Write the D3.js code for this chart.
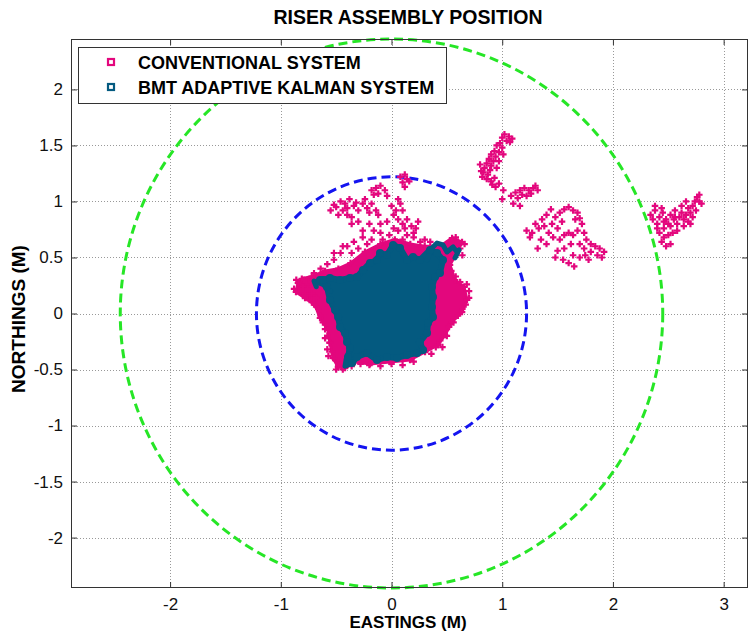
<!DOCTYPE html>
<html>
<head>
<meta charset="utf-8">
<script src="https://cdn.jsdelivr.net/npm/d3@7"></script>
<style>
  body { margin: 0; background: #fff; }
  text { font-family: "Liberation Sans", Arial, sans-serif; }
</style>
</head>
<body>
<div id="chart"></div>
<script>
// tick values
var xTicks = [-2, -1, 0, 1, 2, 3];
var yTicks = [-2, -1.5, -1, -0.5, 0, 0.5, 1, 1.5, 2];

// dashed limit circles (radius in metres)
var limitRadii = [2.45, 1.22];

// conventional system: outline of the saturated cloud round the centre
var convCore = [
  [-0.845,0.272],[-0.863,0.192],[-0.781,0.138],[-0.691,0.076],[-0.646,-0.040],[-0.574,-0.147],
  [-0.556,-0.263],[-0.528,-0.397],[-0.483,-0.477],[-0.420,-0.487],[-0.330,-0.433],[-0.194,-0.451],
  [-0.014,-0.433],[0.167,-0.415],[0.303,-0.344],[0.420,-0.281],[0.483,-0.192],[0.547,-0.076],
  [0.637,0.013],[0.682,0.121],[0.655,0.237],[0.574,0.299],[0.528,0.433],[0.601,0.567],
  [0.637,0.638],[0.547,0.674],[0.44,0.60],[0.30,0.60],[0.17,0.62],[0.03,0.66],[-0.10,0.62],
  [-0.24,0.55],[-0.37,0.45],[-0.48,0.40],[-0.60,0.38],[-0.72,0.33],[-0.81,0.31]
];
// conventional system positions (eastings, northings)
var convCentre = [
  [-0.84,0.27],[-0.80,0.24],[-0.82,0.20],[-0.76,0.22],[-0.78,0.16],[-0.72,0.18],[-0.74,0.12],[-0.70,0.08],
  [-0.66,0.04],[-0.68,0.14],[-0.64,-0.02],[-0.62,-0.08],[-0.60,-0.14],[-0.58,-0.20],[-0.56,-0.26],[-0.58,-0.32],
  [-0.86,0.30],[-0.88,0.22],[-0.79,0.30],[-0.73,0.28],[-0.60,-0.22],[-0.57,-0.38],
  [-0.54,-0.34],[-0.52,-0.40],[-0.48,-0.46],[-0.44,-0.50],[-0.50,-0.50],[-0.40,-0.46],[-0.36,-0.47],
  [-0.20,-0.46],[-0.10,-0.47],[0.00,-0.45],[0.10,-0.46],[0.20,-0.43],[-0.28,-0.45],
  [0.40,-0.30],[0.44,-0.24],[0.50,-0.20],[0.52,-0.12],[0.56,-0.08],[0.60,-0.02],[0.64,0.04],[0.67,0.08],
  [0.70,0.14],[0.70,0.20],[0.68,0.26],[0.62,0.28],[0.58,0.33],[0.54,0.38],[0.36,-0.36],[0.46,-0.30],
  [0.44,0.44],[0.48,0.50],[0.52,0.56],[0.56,0.62],[0.60,0.64],[0.62,0.58],[0.64,0.52],[0.50,0.62],
  [0.46,0.58],[0.40,0.52],[0.35,0.64],[0.30,0.66],[0.66,0.62],[0.58,0.68],
  [-0.40,0.60],[-0.34,0.64],[-0.26,0.68],[-0.18,0.66],[-0.10,0.72],[-0.02,0.70],[0.06,0.74],[0.14,0.70],
  [0.20,0.68],[0.26,0.64],[-0.46,0.54],[-0.52,0.48],[-0.58,0.44],[-0.64,0.40],[-0.30,0.58],[0.10,0.66],
  [-0.22,0.62],[-0.08,0.66],[-0.44,0.60],[-0.36,0.54],[-0.70,0.36],[-0.52,0.54],[-0.16,0.74],[0.02,0.76]
];
var convUpper = [
  [0.08,1.22],[0.12,1.24],[0.14,1.20],[0.10,1.17],[0.16,1.18],[0.12,1.13],
  [-0.18,1.10],[-0.14,1.12],[-0.10,1.14],[-0.06,1.10],[-0.12,1.07],[-0.16,1.06],[-0.04,1.05],
  [-0.55,0.92],[-0.50,0.95],[-0.46,1.00],[-0.42,0.98],[-0.38,1.02],[-0.34,0.96],[-0.30,0.92],[-0.44,0.92],
  [-0.40,0.88],[-0.36,0.86],[-0.48,0.88],[-0.52,0.97],[-0.40,0.94],[-0.32,0.99],[-0.36,0.80],
  [-0.26,0.98],[-0.22,0.94],[-0.18,0.98],[-0.14,0.92],[-0.12,0.88],[-0.20,0.90],[-0.24,1.02],
  [0.00,0.96],[0.04,0.92],[0.08,0.98],[0.02,0.88],[0.06,1.02],[0.10,0.92],
  [0.06,0.84],[0.10,0.80],[0.14,0.84],[0.18,0.78],[0.22,0.76],[0.24,0.82],[0.12,0.76],[0.20,0.72],
  [-0.26,0.74],[-0.20,0.80],[-0.10,0.80],[-0.30,0.82],[-0.04,0.82]
];
var convArmA = [
  [1.02,1.60],[1.06,1.58],[1.09,1.56],[1.00,1.57],[1.04,1.54],[0.98,1.52],[1.07,1.53],[0.95,1.50],
  [1.00,1.48],[0.93,1.45],[0.97,1.44],[0.90,1.42],[0.94,1.40],[0.88,1.38],[0.92,1.36],[0.86,1.34],
  [0.90,1.32],[0.84,1.30],[0.89,1.28],[0.83,1.26],[0.87,1.24],[0.82,1.22],[0.86,1.20],[0.90,1.18],
  [0.93,1.21],[0.95,1.30],[0.97,1.36],[1.01,1.42],[0.80,1.33],[0.81,1.27],[0.91,1.15],[0.94,1.13],
  [0.97,1.16],
  [1.08,1.05],[1.12,1.08],[1.16,1.10],[1.20,1.12],[1.24,1.10],[1.28,1.12],[1.32,1.10],[1.18,1.06],
  [1.22,1.05],[1.14,1.03],[1.26,1.07],[1.30,1.14],[1.10,0.98],[1.16,0.96],[1.01,1.10],[1.00,1.02]
];
var convClusterC = [
  [1.30,0.80],[1.27,0.72],[1.33,0.76],[1.36,0.84],[1.40,0.88],[1.38,0.78],[1.42,0.72],[1.45,0.80],
  [1.48,0.86],[1.52,0.90],[1.56,0.93],[1.60,0.95],[1.64,0.92],[1.68,0.90],[1.70,0.85],[1.72,0.80],
  [1.66,0.84],[1.50,0.76],[1.46,0.68],[1.52,0.66],[1.56,0.70],[1.60,0.72],[1.64,0.70],
  [1.68,0.74],[1.74,0.72],[1.76,0.66],[1.80,0.62],[1.84,0.60],[1.88,0.58],[1.92,0.55],[1.86,0.52],
  [1.80,0.55],[1.74,0.58],[1.70,0.62],[1.62,0.62],[1.56,0.58],[1.50,0.56],[1.48,0.50],[1.55,0.48],
  [1.60,0.45],[1.64,0.52],[1.70,0.50],[1.78,0.48],[1.90,0.50],[1.40,0.62],[1.35,0.66],[1.22,0.74],
  [1.25,0.68],[1.32,0.58],[1.44,0.93],[1.54,0.82],[1.75,0.52],[1.65,0.42]
];
var convClusterD = [
  [2.34,0.88],[2.38,0.92],[2.36,0.84],[2.42,0.86],[2.40,0.80],[2.45,0.90],[2.48,0.84],[2.50,0.80],
  [2.46,0.76],[2.52,0.88],[2.55,0.84],[2.58,0.80],[2.60,0.86],[2.62,0.90],[2.56,0.92],[2.64,0.84],
  [2.66,0.88],[2.68,0.94],[2.70,0.90],[2.72,0.96],[2.74,1.00],[2.76,1.04],[2.78,1.00],[2.72,0.86],
  [2.68,0.82],[2.75,0.92],[2.80,0.98],[2.66,1.00],[2.62,0.96],[2.58,0.74],[2.54,0.72],[2.50,0.70],
  [2.46,0.68],[2.44,0.64],[2.48,0.60],[2.52,0.62],[2.42,0.72],[2.40,0.76],[2.46,0.82],[2.52,0.78],
  [2.56,0.86],[2.70,0.80],[2.64,0.78],[2.38,0.96],[2.44,0.94],[2.78,1.06]
];

// adaptive kalman track: outline of the dense core, plus its outer excursions
var kalmanHull = [
  [-0.646,0.299],[-0.583,0.237],[-0.556,0.121],[-0.510,0.031],[-0.483,-0.031],[-0.465,-0.121],
  [-0.420,-0.174],[-0.402,-0.254],[-0.375,-0.308],[-0.393,-0.388],[-0.357,-0.442],[-0.312,-0.388],
  [-0.221,-0.353],[-0.131,-0.415],[-0.041,-0.388],[0.050,-0.397],[0.140,-0.371],[0.230,-0.353],
  [0.285,-0.326],[0.257,-0.254],[0.321,-0.174],[0.330,-0.085],[0.375,-0.031],[0.366,0.058],
  [0.375,0.147],[0.366,0.237],[0.393,0.326],[0.438,0.362],[0.465,0.478],[0.411,0.540],
  [0.348,0.567],[0.257,0.478],[0.194,0.504],[0.140,0.478],[0.077,0.585],[0.014,0.612],
  [-0.041,0.522],[-0.104,0.540],[-0.131,0.478],[-0.194,0.451],[-0.257,0.388],[-0.312,0.326],
  [-0.375,0.317],[-0.465,0.299],[-0.556,0.317],[-0.619,0.299]
];
var kalmanTrails = [
  [[0.321,0.478],[0.366,0.585],[0.411,0.629],[0.465,0.612],[0.501,0.549],[0.556,0.594],[0.592,0.549],[0.610,0.567],[0.574,0.496]],
  [[-0.55,0.20],[-0.62,0.26],[-0.70,0.29],[-0.68,0.24]],
  [[-0.38,-0.33],[-0.41,-0.41],[-0.42,-0.47],[-0.37,-0.45]]
];

var seriesNames = ["CONVENTIONAL SYSTEM", "BMT ADAPTIVE KALMAN SYSTEM"];

var pink = "#e3077d", teal = "#045a80";
var W = 749, H = 635;
var box = {left: 71, right: 748, top: 39, bottom: 588};

var svg = d3.select("#chart").append("svg").attr("width", W).attr("height", H);

var x = d3.scaleLinear().domain([-2.895, 3.22]).range([box.left, box.right]);
var y = d3.scaleLinear().domain([-2.45, 2.45]).range([box.bottom, box.top]);

svg.append("rect").attr("x", box.left).attr("y", box.top)
  .attr("width", box.right - box.left).attr("height", box.bottom - box.top)
  .attr("fill", "#fff");

// dotted grid
var grid = svg.append("g").attr("stroke", "#999").attr("stroke-width", 1).attr("stroke-dasharray", "1,2");
grid.selectAll("line.gx").data(xTicks).enter().append("line")
  .attr("x1", function(d){ return Math.round(x(d)) + 0.5; }).attr("x2", function(d){ return Math.round(x(d)) + 0.5; })
  .attr("y1", box.top).attr("y2", box.bottom);
grid.selectAll("line.gy").data(yTicks).enter().append("line")
  .attr("y1", function(d){ return Math.round(y(d)) + 0.5; }).attr("y2", function(d){ return Math.round(y(d)) + 0.5; })
  .attr("x1", box.left).attr("x2", box.right);

// limit circles
var circleColors = ["#26e626", "#1414f0"];
svg.selectAll("ellipse.limit").data(limitRadii).enter().append("ellipse")
  .attr("cx", x(0)).attr("cy", y(0))
  .attr("rx", function(d){ return x(d) - x(0); })
  .attr("ry", function(d){ return y(0) - y(d); })
  .attr("fill", "none")
  .attr("stroke", function(d, i){ return circleColors[i]; })
  .attr("stroke-width", 3)
  .attr("stroke-dasharray", "9,5");

var line = d3.line().x(function(d){ return x(d[0]); }).y(function(d){ return y(d[1]); });

// conventional points
var cross = d3.symbol().type(d3.symbolCross).size(24);
svg.append("path").datum(convCore)
  .attr("d", line.curve(d3.curveLinearClosed))
  .attr("fill", pink).attr("stroke", pink).attr("stroke-width", 3).attr("stroke-linejoin", "round");
var convAll = convCore.concat(convCentre, convUpper, convArmA, convClusterC, convClusterD);
svg.append("g").selectAll("path").data(convAll).enter().append("path")
  .attr("d", cross)
  .attr("transform", function(d){ return "translate(" + x(d[0]) + "," + y(d[1]) + ")"; })
  .attr("fill", pink);

// kalman track
svg.append("path").datum(kalmanHull)
  .attr("d", line.curve(d3.curveLinearClosed))
  .attr("fill", teal).attr("stroke", teal).attr("stroke-width", 6).attr("stroke-linejoin", "round");
line.curve(d3.curveLinear);
svg.append("g").selectAll("path").data(kalmanTrails).enter().append("path")
  .attr("d", line)
  .attr("fill", "none").attr("stroke", teal).attr("stroke-width", 5)
  .attr("stroke-linejoin", "round").attr("stroke-linecap", "round");
svg.append("g").selectAll("circle").data(kalmanHull).enter().append("circle")
  .attr("cx", function(d){ return x(d[0]); }).attr("cy", function(d){ return y(d[1]); })
  .attr("r", 4).attr("fill", teal);

// axes
var fmt = function(d){ return String(d); };
var axB = svg.append("g").attr("transform", "translate(0," + box.bottom + ")")
  .call(d3.axisBottom(x).tickValues(xTicks).tickSize(-6).tickPadding(10).tickFormat(fmt));
var axL = svg.append("g").attr("transform", "translate(" + box.left + ",0)")
  .call(d3.axisLeft(y).tickValues(yTicks).tickSize(-6).tickPadding(8).tickFormat(fmt));
var axT = svg.append("g").attr("transform", "translate(0," + box.top + ")")
  .call(d3.axisTop(x).tickValues(xTicks).tickSize(-6).tickFormat(""));
var axR = svg.append("g").attr("transform", "translate(" + box.right + ",0)")
  .call(d3.axisRight(y).tickValues(yTicks).tickSize(-6).tickFormat(""));
[axB, axL, axT, axR].forEach(function(a){
  a.select(".domain").remove();
  a.selectAll("line").attr("stroke", "#333");
  a.selectAll("text").attr("font-size", 17).attr("fill", "#111")
    .attr("font-family", "Liberation Sans, Arial, sans-serif");
});

svg.append("rect").attr("x", box.left + 0.5).attr("y", box.top + 0.5)
  .attr("width", box.right - box.left - 1).attr("height", box.bottom - box.top - 1)
  .attr("fill", "none").attr("stroke", "#333");

// titles
svg.append("text").attr("x", 408).attr("y", 24).attr("text-anchor", "middle")
  .attr("font-weight", "bold").attr("font-size", 19.5).text("RISER ASSEMBLY POSITION");
svg.append("text").attr("x", 408).attr("y", 628).attr("text-anchor", "middle")
  .attr("font-weight", "bold").attr("font-size", 17).text("EASTINGS (M)");
svg.append("text").attr("transform", "translate(25,319) rotate(-90)").attr("text-anchor", "middle")
  .attr("font-weight", "bold").attr("font-size", 19).text("NORTHINGS (M)");

// legend
var lg = svg.append("g");
lg.append("rect").attr("x", 78.5).attr("y", 47.5).attr("width", 368).attr("height", 56)
  .attr("fill", "#fff").attr("stroke", "#333");
var legendColors = [pink, teal];
var rows = lg.selectAll("g.row").data(seriesNames).enter().append("g")
  .attr("transform", function(d, i){ return "translate(0," + (62 + i * 25) + ")"; });
rows.append("rect").attr("x", 108).attr("y", -3).attr("width", 6).attr("height", 6)
  .attr("fill", "#fff").attr("stroke", function(d, i){ return legendColors[i]; }).attr("stroke-width", 2.2);
rows.append("text").attr("x", 138).attr("y", 7).attr("font-weight", "bold").attr("font-size", 18)
  .text(function(d){ return d; });
</script>
</body>
</html>
